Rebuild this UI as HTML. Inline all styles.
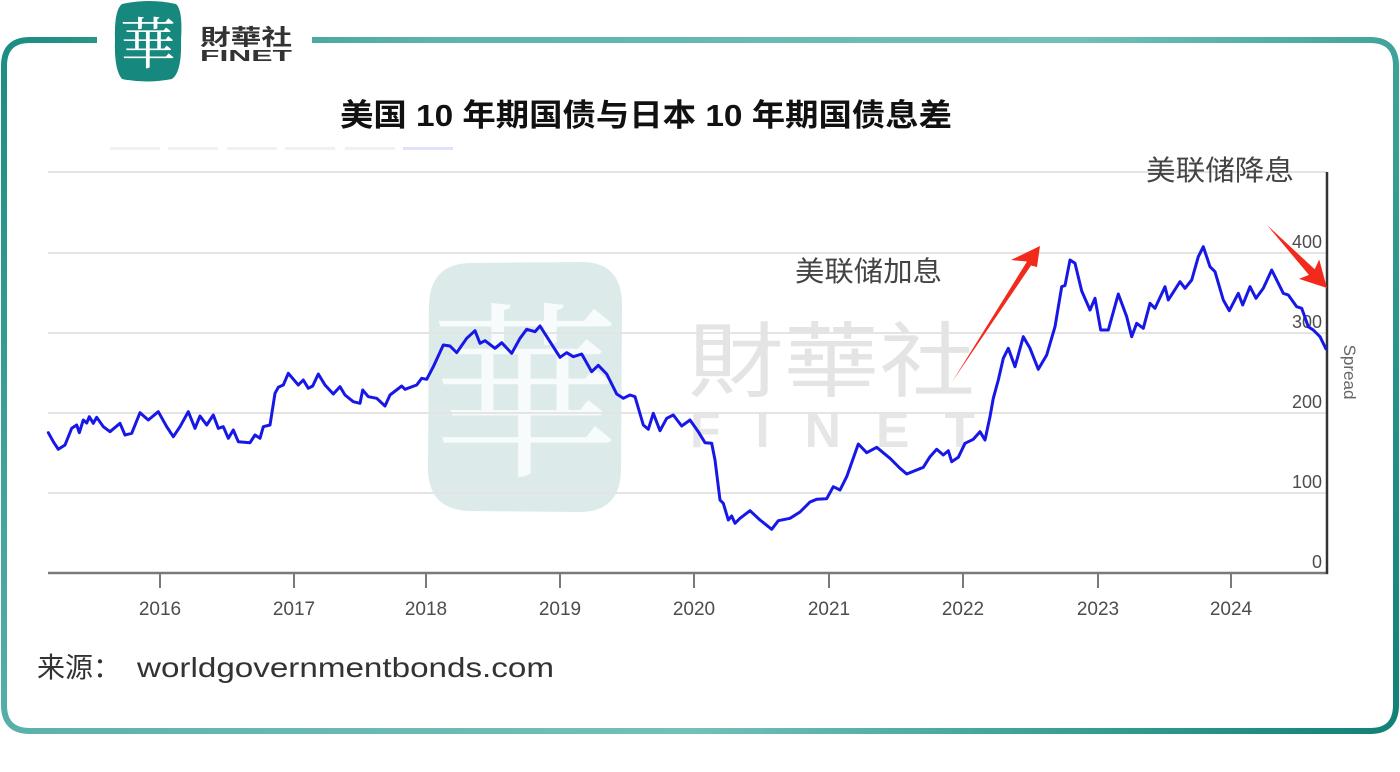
<!DOCTYPE html>
<html>
<head>
<meta charset="utf-8">
<style>
  html,body{margin:0;padding:0;background:#fff;}
  body{width:1400px;height:772px;overflow:hidden;}
  svg{display:block;}
</style>
</head>
<body>
<svg width="1400" height="772" viewBox="0 0 1400 772" xmlns="http://www.w3.org/2000/svg">
  <defs>
    <linearGradient id="bd" gradientUnits="userSpaceOnUse" x1="0" y1="0" x2="1400" y2="772">
      <stop offset="0" stop-color="#168a7f"/>
      <stop offset="0.25" stop-color="#5fb3ad"/>
      <stop offset="0.6" stop-color="#72c0ba"/>
      <stop offset="0.8" stop-color="#3a9f97"/>
      <stop offset="1" stop-color="#0e7e75"/>
    </linearGradient>
  </defs>
  <rect x="0" y="0" width="1400" height="772" fill="#fff"/>

  <!-- border frame -->
  <path d="M97,40 L30,40 Q4,40 4,66 L4,705 Q4,731 30,731 L1370,731 Q1396,731 1396,705 L1396,66 Q1396,40 1370,40 L312,40" fill="none" stroke="url(#bd)" stroke-width="6"/>

  <!-- top-left logo -->
  <path d="M122,4 Q150,-2 176,4 Q183,10 181,40 Q182,72 172,79 Q146,84 122,79 Q114,70 115,40 Q114,10 122,4 Z" fill="#17887d"/>
  <text x="148" y="64" text-anchor="middle" font-family="'Noto Serif CJK SC','Noto Serif CJK TC',serif" font-size="56" fill="#fff">華</text>
  <text x="200" y="45" font-family="'Noto Sans CJK TC','Noto Sans CJK SC',sans-serif" font-weight="bold" font-size="22" fill="#333" textLength="92" lengthAdjust="spacingAndGlyphs">財華社</text>
  <text x="200" y="61" font-family="'Liberation Sans',sans-serif" font-weight="bold" font-size="16" fill="#333" textLength="92" lengthAdjust="spacingAndGlyphs">FINET</text>

  <!-- title -->
  <text x="340" y="126" font-family="'Liberation Sans','Noto Sans CJK SC',sans-serif" font-weight="bold" font-size="31" fill="#111" textLength="612" lengthAdjust="spacingAndGlyphs">美国 10 年期国债与日本 10 年期国债息差</text>

  <!-- faint legend bars -->
  <g fill="#f1f1f3">
    <rect x="110" y="147" width="50" height="3"/>
    <rect x="168" y="147" width="50" height="3"/>
    <rect x="227" y="147" width="50" height="3"/>
    <rect x="285" y="147" width="50" height="3"/>
    <rect x="345" y="147" width="50" height="3"/>
  </g>
  <rect x="403" y="147" width="50" height="3" fill="#dfe2f8"/>

  <!-- watermark -->
  <path d="M470,263 L585,262 Q622,264 622,305 L621,470 Q620,512 580,512 L470,511 Q429,510 428,470 L429,305 Q430,264 470,263 Z" fill="#dcebea"/>
  <text x="525" y="462" text-anchor="middle" font-family="'Noto Serif CJK SC','Noto Serif CJK TC',serif" font-size="190" fill="#f7fbfb">華</text>
  <text x="688" y="390" font-family="'Noto Sans CJK TC','Noto Sans CJK SC',sans-serif" font-size="82" fill="#e4e4e4" textLength="287" lengthAdjust="spacingAndGlyphs">財華社</text>
  <text x="690" y="447" font-family="'Liberation Sans',sans-serif" font-weight="bold" font-size="50" fill="#e6e6e6" textLength="285" lengthAdjust="spacing">FINET</text>

  <!-- gridlines -->
  <g stroke="#e4e4e4" stroke-width="2">
    <line x1="48" y1="172" x2="1327" y2="172"/>
    <line x1="48" y1="253" x2="1327" y2="253"/>
    <line x1="48" y1="333" x2="1327" y2="333"/>
    <line x1="48" y1="413" x2="1327" y2="413"/>
    <line x1="48" y1="493" x2="1327" y2="493"/>
  </g>

  <!-- x axis -->
  <line x1="48" y1="573" x2="1328" y2="573" stroke="#7a7a7a" stroke-width="2.5"/>
  <g stroke="#7a7a7a" stroke-width="2">
    <line x1="160" y1="573" x2="160" y2="588"/>
    <line x1="294" y1="573" x2="294" y2="588"/>
    <line x1="426" y1="573" x2="426" y2="588"/>
    <line x1="560" y1="573" x2="560" y2="588"/>
    <line x1="694" y1="573" x2="694" y2="588"/>
    <line x1="829" y1="573" x2="829" y2="588"/>
    <line x1="963" y1="573" x2="963" y2="588"/>
    <line x1="1098" y1="573" x2="1098" y2="588"/>
    <line x1="1231" y1="573" x2="1231" y2="588"/>
  </g>
  <g font-family="'Liberation Sans',sans-serif" font-size="19" fill="#4d4d4d" text-anchor="middle">
    <text x="160" y="615">2016</text>
    <text x="294" y="615">2017</text>
    <text x="426" y="615">2018</text>
    <text x="560" y="615">2019</text>
    <text x="694" y="615">2020</text>
    <text x="829" y="615">2021</text>
    <text x="963" y="615">2022</text>
    <text x="1098" y="615">2023</text>
    <text x="1231" y="615">2024</text>
  </g>

  <!-- right axis -->
  <line x1="1327" y1="172" x2="1327" y2="574" stroke="#333" stroke-width="2.5"/>
  <g font-family="'Liberation Sans',sans-serif" font-size="18" fill="#4d4d4d" text-anchor="end">
    <text x="1322" y="248">400</text>
    <text x="1322" y="328">300</text>
    <text x="1322" y="408">200</text>
    <text x="1322" y="488">100</text>
    <text x="1322" y="568">0</text>
  </g>
  <text x="0" y="0" transform="translate(1344,372) rotate(90)" text-anchor="middle" font-family="'Liberation Sans',sans-serif" font-size="17" fill="#666">Spread</text>

  <!-- series -->
  <polyline fill="none" stroke="#1717e8" stroke-width="3" stroke-linejoin="round" stroke-linecap="round"
    points="48.3,432.7 53.3,441.7 58.3,449.3 65,445 71.7,428.3 76.7,425 79.3,432.7 83.3,420 86.7,423 89.3,416.7 93.3,423.3 96.7,417.3 103.3,426.7 110,431.7 120,423.3 125,435 131.7,433.3 140,412.7 148.3,420 158.3,411.7 166.7,426.7 173.3,436.7 180,426.7 188.3,411.7 195,428.3 200,416 206.7,425 213.3,415 218.3,428.3 223.3,426.7 228.3,438.3 233.3,430 238.3,441.7 250,442.7 255,435 260,438.3 263.3,426.7 270,425 275,393.3 278.3,387.3 283.3,385 288.3,373.3 298.3,385 303.3,380 308.3,388.3 312.7,386 318.3,374 325,385 333.3,394 340,386.7 345,395 353.3,401.7 360,403.3 362.7,390 368.3,396.7 376.7,398.3 385,406 390,395 401.7,386 405,389.3 416.7,385 421.7,378.3 426.7,379.3 433.3,366.7 443.3,345 450,346 456.7,352.7 466.7,338.3 475,330.7 480,343.3 485,340.7 495,348.3 501.7,342.7 511.7,353.3 520,338.3 526.7,329.3 535,331.7 540,326 550,341.7 560,357.3 566.7,352.7 573.3,356.7 581.7,354 591.7,371.7 598.3,365.3 606.7,374 616.7,394 623.3,398.3 630,395 635,396.7 643.3,425 648.3,429.3 653.3,413.3 660,430.7 666.7,418.3 673.3,415 681.7,426 690,420 698.3,431.7 705,442.7 711.7,443.3 715,460 720,500 723.3,503.3 728.3,520 731.7,516 735,523.3 740,518.3 750,510.7 760,520 771.7,529.3 778.3,520.7 790,518.3 800,512 810,502 816.7,499.3 826.7,498.7 833.3,486.7 840,490 846.7,476.7 858.3,444 866.7,452.7 876.7,447.3 890,458.3 900,468.3 906.7,474 923.3,467.3 930,456.7 936.7,449.3 943.3,455 948.3,450.7 951.7,461.7 958.3,457.3 965,443.3 973.3,439.3 980,431.7 985,440 990,416.7 993.3,398.3 998.3,380 1003.3,358.3 1008.3,348.3 1015,366.7 1023.3,336.7 1030,348.3 1038.3,369.3 1046.7,355 1055,326.7 1061.7,286.7 1065,285.5 1070,260 1075,263.3 1081.7,291 1090,310 1095,298.3 1100.7,330 1108.3,330 1118.3,294 1126.7,316.7 1131.7,336.7 1136.7,323.3 1143.3,328.3 1150,303.3 1155,308.3 1165,286.7 1168.3,300 1180,281.7 1185,288.3 1191.7,280 1198.3,256.7 1203.3,246.7 1210,266.7 1215,271.7 1223.3,300 1229.3,310.7 1238.3,293.3 1242.7,305 1250,286.7 1256,298.3 1263.3,288.3 1271.7,270 1283.3,293.3 1288.3,295 1296.7,306.7 1301.7,308.3 1308.3,326.7 1313.3,330 1320,336.7 1326,349"/>

  <!-- annotations -->
  <text x="795" y="281" font-family="'Liberation Sans','Noto Sans CJK SC',sans-serif" font-size="28" fill="#444" textLength="147" lengthAdjust="spacingAndGlyphs">美联储加息</text>
  <text x="1146" y="180" font-family="'Liberation Sans','Noto Sans CJK SC',sans-serif" font-size="28" fill="#444" textLength="148" lengthAdjust="spacingAndGlyphs">美联储降息</text>

  <!-- arrows -->
  <polygon points="952,382 1027,261.5 1011,260 1040,246 1037,267 1031,265.5" fill="#f22a1c"/>
  <polygon points="1267,225 1314.7,269.3 1319.2,259.5 1327,288 1299,278.9 1308.9,274.9" fill="#f22a1c"/>

  <!-- source -->
  <text x="37" y="677" font-family="'Liberation Sans','Noto Sans CJK SC',sans-serif" font-size="28" fill="#333">来源：</text>
  <text x="137" y="677" font-family="'Liberation Sans',sans-serif" font-size="28" fill="#333" textLength="417" lengthAdjust="spacingAndGlyphs">worldgovernmentbonds.com</text>
</svg>
</body>
</html>
